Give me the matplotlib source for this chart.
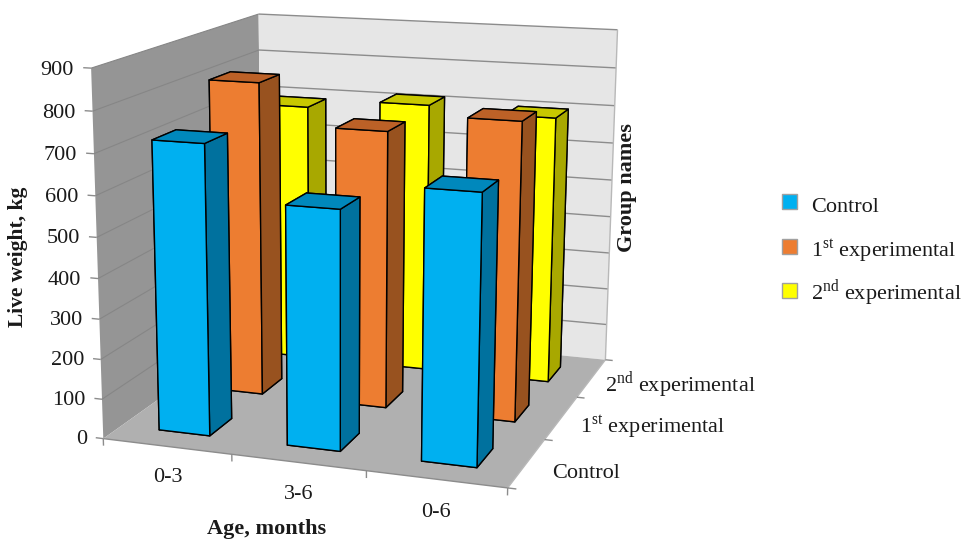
import numpy as np
import matplotlib
matplotlib.use("Agg")
import matplotlib.pyplot as plt
from matplotlib.patches import Rectangle
from mpl_toolkits.mplot3d import proj3d
from mpl_toolkits.mplot3d.art3d import Line3DCollection, Poly3DCollection

plt.rcParams["font.family"] = ["Liberation Serif", "DejaVu Serif"]
plt.rcParams["mathtext.fontset"] = "custom"
plt.rcParams["mathtext.rm"] = "Liberation Serif"

ages = ["0-3", "3-6", "0-6"]
groups = ["Control", "1$^{\\mathrm{st}}$ experimental", "2$^{\\mathrm{nd}}$ experimental"]
control = [720, 588, 652]
first_exp = [810, 708, 753]
second_exp = [692, 716, 702]
z_ticks = [0, 100, 200, 300, 400, 500, 600, 700, 800, 900]

front_colors = ["#00B0F0", "#ED7D31", "#FFFF00"]
side_colors = ["#00719E", "#98521F", "#A8A800"]
top_colors = ["#0088BC", "#BC6127", "#C8C800"]

W, H = 961, 540
Z_MAX = 900.0
BAR = 0.4
TXT = "#1a1a1a"

# chart corners on the image: x, y, z of the box -> pixel, the camera is fitted to them
view_points = np.array([
    [0, 0, 0, 105, 436],
    [1, 0, 0, 232, 454],
    [2, 0, 0, 366, 472],
    [3, 0, 0, 505, 490],
    [3, 1, 0, 547, 440],
    [3, 2, 0, 578, 396],
    [3, 3, 0, 605, 357],
    [0, 3, 0, 260, 329],
    [0, 0, 900, 90, 68],
    [0, 3, 900, 260, 13],
    [3, 3, 900, 617, 31],
], dtype=float)

fig = plt.figure(figsize=(W / 100, H / 100), dpi=100)
ax = fig.add_axes([0, (H - W) / 2 / H, 1, W / H], projection="3d", computed_zorder=False)
ax.set_axis_off()
ax.apply_aspect()


def fit_camera():
    px = np.c_[view_points[:, 3], H - view_points[:, 4]]
    uv = ax.transData.inverted().transform(px)
    xyz = view_points[:, :3] / [3, 3, Z_MAX]
    rows, rhs = [], []
    for (x, y, z), (u, v) in zip(xyz, uv):
        rows.append([x, y, z, 1, 0, 0, 0, 0, -u * x, -u * y, -u * z])
        rhs.append(u)
        rows.append([0, 0, 0, 0, x, y, z, 1, -v * x, -v * y, -v * z])
        rhs.append(v)
    p = np.linalg.lstsq(np.array(rows), np.array(rhs), rcond=None)[0]
    m = np.array([
        [p[0], p[1], p[2], p[3]],
        [p[4], p[5], p[6], p[7]],
        [-1, 1, -0.5, 0],
        [p[8], p[9], p[10], 1],
    ])
    return m @ np.diag([1 / 3, 1 / 3, 1 / Z_MAX, 1])


M = fit_camera()
ax.get_proj = lambda: M
ax.set_xlim(0, 3)
ax.set_ylim(0, 3)
ax.set_zlim(0, Z_MAX)


def label(x, y, z, s, dy=0, **kw):
    # put a text at a 3d position, as plain figure text
    u, v, _ = proj3d.proj_transform(x, y, z, M)
    px, py = ax.transData.transform((u, v))
    fig.text(px / W, (py + dy) / H, s, fontsize=16, color=TXT, **kw)


def lines(segs, col, lw=1.0):
    ax.add_collection3d(Line3DCollection(segs, colors=col, linewidths=lw, zorder=2))


# walls and floor
walls = [
    ([(0, 0, 0), (0, 3, 0), (0, 3, Z_MAX), (0, 0, Z_MAX)], "#959595"),
    ([(0, 3, 0), (3, 3, 0), (3, 3, Z_MAX), (0, 3, Z_MAX)], "#E6E6E6"),
    ([(0, 0, 0), (3, 0, 0), (3, 3, 0), (0, 3, 0)], "#B0B0B0"),
]
for verts, col in walls:
    ax.add_collection3d(Poly3DCollection([verts], facecolors=col, edgecolors="none", zorder=1))

lines([[(0, 0, z), (0, 3, z)] for z in z_ticks[1:]], "#868686", 0.8)
lines([[(0, 3, z), (3, 3, z)] for z in z_ticks[1:]], "#8C8C8C")
lines([[(-0.06, 0, z), (0, 0, z)] for z in z_ticks], "#8C8C8C")
lines([[(3, 3, 0), (3, 3, Z_MAX)], [(3, 0, 0), (3, 3, 0)]], "#B8B8B8")
lines([[(0, 0, 0), (3, 0, 0)]], "#8C8C8C")
lines([[(i, 0, 0), (i, 0, -18)] for i in range(4)], "#8C8C8C")
lines([[(3, i, 0), (3.06, i, 0)] for i in range(4)], "#8C8C8C")

for z in z_ticks:
    label(-0.13, 0, z, str(z), dy=-3, ha="right", va="center")

# bars, back row first so the front ones cover them
series = [control, first_exp, second_exp]
zo = 3
for g in [2, 1, 0]:
    for a in range(3):
        face_cols = [top_colors[g], top_colors[g], front_colors[g], front_colors[g],
                     side_colors[g], side_colors[g]]
        ax.bar3d(a + 0.5 - BAR / 2, g + 0.5 - BAR / 2, 0, BAR, BAR, series[g][a],
                 color=face_cols, shade=False, edgecolor="black", linewidth=1.0, zorder=zo)
        zo += 0.01

for a, lab in enumerate(ages):
    label(a + 0.5, 0, -80, lab, ha="center", va="center")
for g, lab in enumerate(groups):
    label(3.22 - 0.04 * g, g + 0.35, 0, lab, ha="left", va="center")

fig.text(18 / W, 1 - 257 / H, "Live weight, kg", rotation=90, ha="center", va="center",
         fontsize=15.5, fontweight="bold", color=TXT)
fig.text(267 / W, 1 - 529 / H, "Age, months", ha="center", va="center",
         fontsize=16, fontweight="bold", color=TXT)
fig.text(627 / W, 1 - 188 / H, "Group names", rotation=90, ha="center", va="center",
         fontsize=16, fontweight="bold", color=TXT)

# legend
key_y = [201.5, 246.5, 290.5]
text_y = [212, 257, 300]
for i in range(3):
    fig.add_artist(Rectangle((782 / W, 1 - (key_y[i] + 7.5) / H), 15 / W, 15 / H, transform=fig.transFigure,
                             facecolor=front_colors[i], edgecolor="#A0A0A0", linewidth=1.0))
    fig.text(811 / W, 1 - text_y[i] / H, groups[i], ha="left", va="baseline", fontsize=16, color=TXT)

fig.savefig("out.png", dpi=100)
